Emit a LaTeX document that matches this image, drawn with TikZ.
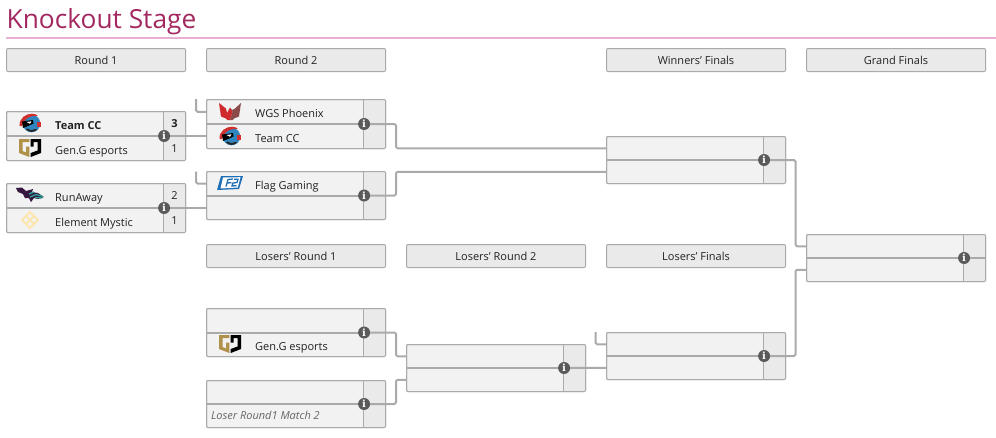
\documentclass[tikz,border=0pt]{standalone}
\usepackage{fontspec}
\setmainfont{Open Sans}
\newfontfamily\iconfont{DejaVu Serif}
\definecolor{ttl}{HTML}{A3285F}
\definecolor{rulec}{HTML}{E9AFD2}
\definecolor{edge}{HTML}{AAAAAA}
\definecolor{bodyc}{HTML}{F2F2F2}
\definecolor{sidec}{HTML}{EAEAEA}
\definecolor{ink}{HTML}{222222}
\definecolor{iconc}{HTML}{5A5A5A}
\definecolor{goldc}{HTML}{B0914A}
\definecolor{ccblue}{HTML}{2F86BE}
\definecolor{ccred}{HTML}{D2302E}
\definecolor{wred}{HTML}{D0292C}
\definecolor{wbrown}{HTML}{8A4A4A}
\definecolor{flagb}{HTML}{1F6FB5}
\definecolor{runp}{HTML}{35183F}
\definecolor{runt}{HTML}{2FA59A}
\definecolor{elem}{HTML}{FBE6AE}
\tikzset{
  x=1pt,y=-1pt,
  hdr/.style={draw=edge,fill=sidec,line width=1pt,rounded corners=1pt,outer sep=0pt,minimum width=179pt,minimum height=23pt,inner sep=0pt,text=ink,text height=10pt,text depth=2pt,font=\fontsize{11}{13}\selectfont},
  boxc/.style={draw=edge,fill=bodyc,line width=1pt,rounded corners=1pt,outer sep=0pt,minimum width=179pt,inner sep=0pt,anchor=north west},
  conn/.style={draw=edge,line width=2pt,rounded corners=1.5pt},
  infoc/.style={circle,fill=iconc,minimum size=12pt,inner sep=0pt,outer sep=0pt,text=white,font=\iconfont\bfseries\fontsize{10}{10}\selectfont},
  team/.style={anchor=west,inner sep=0pt,text=ink,text height=9pt,text depth=2pt,font=\fontsize{11}{13}\selectfont},
  score/.style={inner sep=0pt,text=ink,text height=9pt,text depth=2pt,font=\fontsize{11}{13}\selectfont},
}
% name, x, ytop, height
\newcommand{\matchbox}[4]{%
  \node[boxc,minimum height=#4pt] (#1) at (#2,#3) {};
  \begin{scope}
    \clip[rounded corners=1pt] (#1.north west) rectangle (#1.south east);
    \fill[sidec] ($(#1.north east)+(-22,0)$) rectangle (#1.south east);
  \end{scope}
  \draw[edge,line width=1pt,rounded corners=1pt] (#1.north west) rectangle (#1.south east);
  \draw[edge,line width=1pt] ($(#1.north east)+(-22,0)$) -- ($(#1.south east)+(-22,0)$);
  \draw[edge,line width=2pt] (#1.west) -- ($(#1.east)+(-22,0)$);
  \node[infoc] (#1-i) at ($(#1.east)+(-21.4,0)$) {i};
  \coordinate (#1-t) at ($(#1.north west)!.25!(#1.south west)$);
  \coordinate (#1-b) at ($(#1.north west)!.75!(#1.south west)$);
}
\newcommand{\logoCC}[2]{\begin{scope}[shift={(#1,#2)}]
  \fill[ccblue] (1.5,0.5) circle (8.8);
  \fill[ccred] (-10.5,3) .. controls (-11,-5) and (-4,-9.3) .. (2,-9.3) .. controls (5,-9.3) and (7,-8.3) .. (8,-7) .. controls (2,-8) and (-5,-6) .. (-8,3) -- cycle;
  \fill[black] (-8,-1.5) -- (3,-3) -- (3.5,0.5) -- (-2,3) -- (-7,5) -- cycle;
  \fill[white] (-3.5,-1) -- (1.5,-1.7) -- (0,0.8) -- cycle;
  \fill[ccred] (6.5,-1.5) rectangle (10.5,3.5);
  \fill[black!85] (-4,6.5) .. controls (-1,9.7) and (4,9.7) .. (7.5,6.5) -- (5,6) .. controls (2,7.5) and (-1,7.5) .. (-2.5,5.5) -- cycle;
\end{scope}}
\newcommand{\logoGG}[2]{\begin{scope}[shift={(#1,#2)}]
  \fill[goldc] (-11,-9) -- (-0.7,-9) -- (-0.7,-6) -- (-7.5,-6) -- (-7.5,3) -- (-3.8,4.5) -- (-3.8,-1.5) -- (-0.7,-1.5) -- (-0.7,9) -- (-11,5) -- cycle;
  \fill[black] (0.7,-9) -- (11,-9) -- (11,5) -- (0.7,9) -- (0.7,5) -- (7.5,2.5) -- (7.5,-6) -- (3.5,-6) -- (3.5,-1.5) -- (0.7,-1.5) -- cycle;
\end{scope}}
\newcommand{\logoW}[2]{\begin{scope}[shift={(#1,#2)}]
  \fill[wred] (-11,-8.5) -- (-4,-3) -- (-3,1.5) -- (0,-4) -- (2.5,0) -- (0,8.7) -- (-2.5,8.7) -- (-4,7) -- (-9,5) -- cycle;
  \fill[wbrown] (0,-4) -- (2,-1.5) -- (5,-3) -- (11,-8.5) -- (9,5) -- (4,7) -- (2.5,8.7) -- (0,8.7) -- (2.5,0) -- cycle;
\end{scope}}
\newcommand{\logoFlag}[2]{\begin{scope}[shift={(#1,#2)}]
  \fill[flagb] (-9,-7) -- (13,-7) -- (9,6) -- (-13,7) -- cycle;
  \fill[white] (-7,-5.5) -- (10.5,-5.8) -- (7.8,4.5) -- (-9.5,5.5) -- cycle;
  \draw[flagb,line width=1.3pt] (-4,3.5) -- (-2,-3.5) -- (3,-4) (-3,0) -- (1.5,-0.3) (4,-3.8) -- (8,-3.8) -- (7,-0.5) -- (3,0) -- (2,3) -- (6.5,2.6);
\end{scope}}
\newcommand{\logoRun}[2]{\begin{scope}[shift={(#1,#2)}]
  \fill[runp] (-14,-7) -- (-8,-7.5) -- (-4,-4) -- (3,-6) -- (2,-3) -- (8,-2) -- (14,2) -- (8,4) -- (4,3) -- (1,7) -- (-1,3) -- (-5,3) -- (-7,-1) -- (-12,-3) -- cycle;
  \draw[runt,line width=1.3pt] (-1,-1) -- (4,-3) (0,2) -- (6,-0.5) -- (13,1.5) (5,2.5) -- (12,3);
\end{scope}}
\newcommand{\logoEl}[2]{\begin{scope}[shift={(#1,#2)}]
  \draw[elem,line width=1.8pt] (0,-8) -- (4,-4) -- (8,0) -- (4,4) -- (0,8) -- (-4,4) -- (-8,0) -- (-4,-4) -- cycle;
  \draw[elem,line width=1.8pt] (-4,-4) -- (4,4) (4,-4) -- (-4,4);
\end{scope}}
\usetikzlibrary{calc}
\begin{document}
\begin{tikzpicture}
\useasboundingbox (0,0) rectangle (996,437);
\node[anchor=base west,inner sep=0pt,text=ttl,font=\fontsize{26.3}{30}\selectfont] (title) at (6.5,28.5) {Knockout Stage};
\coordinate (ruleA) at (6,38);
\coordinate (ruleB) at (996,38);
\draw[rulec,line width=2pt] (ruleA) -- (ruleB);

\node[hdr] (h1) at (96,60) {Round 1};
\node[hdr] (h2) at (296,60) {Round 2};
\node[hdr] (h3) at (696,60) {Winners' Finals};
\node[hdr] (h4) at (896,60) {Grand Finals};
\node[hdr] (h5) at (296,256) {Losers' Round 1};
\node[hdr] (h6) at (496,256) {Losers' Round 2};
\node[hdr] (h7) at (696,256) {Losers' Finals};

\matchbox{ra}{6.5}{111.5}{49}
\matchbox{rb}{6.5}{183.5}{49}
\matchbox{sa}{206.5}{99.5}{49}
\matchbox{sb}{206.5}{171.5}{48}
\matchbox{wf}{606.5}{136.5}{47}
\matchbox{gf}{806.5}{234.5}{47}
\matchbox{la}{206.5}{308.5}{48}
\matchbox{lb}{206.5}{380.5}{47}
\matchbox{lc}{406.5}{344.5}{47}
\matchbox{ld}{606.5}{332.5}{47}

\coordinate (j1) at (196,0);
\coordinate (j2) at (396,0);
\coordinate (j3) at (795.5,0);
\coordinate (j4) at (595.5,0);
\coordinate (s1) at (196,99);
\coordinate (s2) at (196,171.5);
\coordinate (s3) at (595.5,332);
\coordinate (gfe) at (985.5,258);

% connectors
\draw[conn] (ra-i.east) -- (sa-b |- ra-i.east);
\draw[conn] (rb-i.east) -- (sb-b |- rb-i.east);
\draw[conn] (s1) -- (s1 |- sa-t) -- (sa-t);
\draw[conn] (s2) -- (s2 |- sb-t) -- (sb-t);
\draw[conn] (sa-i.east) -- (sa-i.east -| j2) -- (j2 |- wf-t) -- (wf-t);
\draw[conn] (sb-i.east) -- (sb-i.east -| j2) -- (j2 |- wf-b) -- (wf-b);
\draw[conn] (la-i.east) -- (la-i.east -| j2) -- (j2 |- lc-t) -- (lc-t);
\draw[conn] (lb-i.east) -- (lb-i.east -| j2) -- (j2 |- lc-b) -- (lc-b);
\draw[conn] (lc-i.east) -- (ld-b);
\draw[conn] (s3) -- (s3 |- ld-t) -- (ld-t);
\draw[conn] (wf-i.east) -- (wf-i.east -| j3) -- (j3 |- gf-t) -- (gf-t);
\draw[conn] (ld-i.east) -- (ld-i.east -| j3) -- (j3 |- gf-b) -- (gf-b);
\draw[conn] (gf-i.east) -- (gfe);

% Round 1
\logoCC{30}{123}
\logoGG{30}{148}
\logoRun{30}{195}
\logoEl{30}{220}
\node[team,font=\fontsize{11}{13}\selectfont\bfseries] (t1) at (55,125.5) {Team CC};
\node[team] (t2) at (55,150.5) {Gen.G esports};
\node[team] (t3) at (55,197.5) {RunAway};
\node[team] (t4) at (55,222.5) {Element Mystic};
\node[score,font=\fontsize{11}{13}\selectfont\bfseries] (n1) at (174.5,123.5) {3};
\node[score] (n2) at (174.5,148.5) {1};
\node[score] (n3) at (174.5,195.5) {2};
\node[score] (n4) at (174.5,220.5) {1};

% Round 2
\logoW{230}{111.5}
\logoCC{230}{136}
\logoFlag{230}{183}
\node[team] (t5) at (255,113.5) {WGS Phoenix};
\node[team] (t6) at (255,138.5) {Team CC};
\node[team] (t7) at (255,185.5) {Flag Gaming};

% Losers
\logoGG{230}{344}
\node[team] (t8) at (255,346.5) {Gen.G esports};
\node[team,text=black!60,font=\fontsize{11}{13}\selectfont\itshape] (t9) at (211,415.5) {Loser Round1 Match 2};
\end{tikzpicture}
\end{document}
